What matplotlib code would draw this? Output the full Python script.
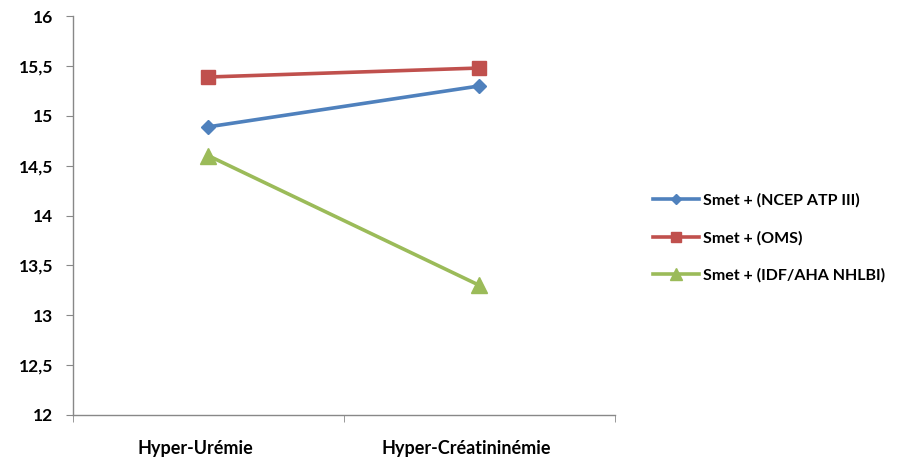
import matplotlib
matplotlib.use("Agg")
import matplotlib.pyplot as plt
import matplotlib.transforms as mtransforms
from matplotlib.ticker import FuncFormatter, MultipleLocator, FixedLocator

categories = ["Hyper-Urémie", "Hyper-Créatininémie"]
series_names = ["Smet + (NCEP ATP III)", "Smet + (OMS)", "Smet + (IDF/AHA NHLBI)"]
ncep = [14.89, 15.30]
oms = [15.39, 15.48]
idf = [14.60, 13.30]

colors = ["#4F81BD", "#C0504D", "#9BBB59"]
markers = ["D", "s", "^"]
msizes = [7, 10, 11]

plt.rcParams['font.family'] = ['Lato', 'DejaVu Sans']
plt.rcParams['font.weight'] = 'bold'

fig = plt.figure(figsize=(9.12, 4.63), dpi=100)
ax = fig.add_axes([0.080, 0.104, 0.594, 0.861])

x = list(range(len(categories)))
for vals, name, c, m, ms in zip([ncep, oms, idf], series_names, colors, markers, msizes):
    ax.plot(x, vals, color=c, lw=2.6, marker=m, markersize=ms, label=name)

ax.set_xlim(-0.5, 1.5)
ax.set_ylim(12, 16)
ax.yaxis.set_major_locator(MultipleLocator(0.5))
ax.yaxis.set_major_formatter(FuncFormatter(lambda v, p: ("%g" % v).replace(".", ",")))
ax.set_xticks(x)
ax.set_xticklabels(categories)
ax.xaxis.set_minor_locator(FixedLocator([-0.5, 0.5, 1.5]))
ax.tick_params(axis="x", which="major", length=0, pad=18, labelsize=13)
ax.tick_params(axis="x", which="minor", length=5, color="#888888")
ax.tick_params(axis="y", length=5, color="#888888", labelsize=12.5, pad=9)
shift = mtransforms.ScaledTranslation(-13 / 100, 0, fig.dpi_scale_trans)
for lab in ax.get_xticklabels():
    lab.set_fontweight("bold")
    lab.set_transform(lab.get_transform() + shift)
for lab in ax.get_yticklabels():
    lab.set_fontweight("bold")

for s in ["top", "right"]:
    ax.spines[s].set_visible(False)
for s in ["left", "bottom"]:
    ax.spines[s].set_color("#888888")
    ax.spines[s].set_linewidth(1)

fig.legend(loc="center left", bbox_to_anchor=(0.700, 0.486), frameon=False,
           prop={"weight": "bold", "size": 11.5}, handlelength=2.9,
           labelspacing=1.45, handletextpad=0.25, markerscale=0.75)

fig.savefig("out.png", dpi=100)
